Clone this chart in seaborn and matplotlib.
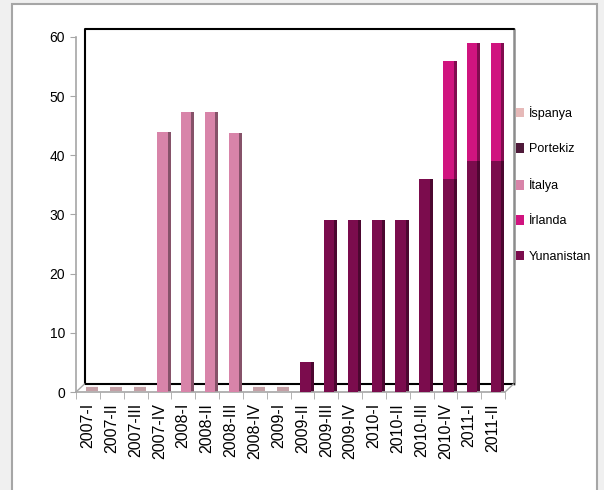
import numpy as np
import matplotlib
matplotlib.use('Agg')
import matplotlib.pyplot as plt
import matplotlib.transforms as mtransforms
from matplotlib.patches import Patch, Rectangle
from matplotlib.colors import to_rgb
import seaborn as sns

categories = ['2007-I', '2007-II', '2007-III', '2007-IV', '2008-I', '2008-II', '2008-III',
              '2008-IV', '2009-I', '2009-II', '2009-III', '2009-IV', '2010-I', '2010-II',
              '2010-III', '2010-IV', '2011-I', '2011-II']
yunanistan = [0, 0, 0, 0, 0, 0, 0, 0, 0, 5, 29, 29, 29, 29, 36, 36, 39, 39]
irlanda = [0, 0, 0, 0, 0, 0, 0, 0, 0, 0, 0, 0, 0, 0, 0, 20, 20, 20]
italya = [0, 0, 0, 44, 47.3, 47.3, 43.8, 0, 0, 0, 0, 0, 0, 0, 0, 0, 0, 0]
portekiz = [0] * 18
ispanya = [0] * 18

series = ['Yunanistan', 'İrlanda', 'İtalya', 'Portekiz', 'İspanya']
values = [yunanistan, irlanda, italya, portekiz, ispanya]
colors = ['#7b0c4d', '#d0147f', '#d884a9', '#4f1a3a', '#e6b9b8']

sns.set_style('white')
plt.rcParams['font.family'] = ['Liberation Sans', 'DejaVu Sans']
plt.rcParams['text.color'] = 'black'
plt.rcParams['xtick.labelcolor'] = 'black'
plt.rcParams['ytick.labelcolor'] = 'black'

fig = plt.figure(figsize=(6.04, 4.90), dpi=100)
fig.patch.set_facecolor('#f0f0f0')
fig.patches.append(Rectangle((12 / 604, -0.01), 585 / 604, 1.0059 - 2 / 490,
                             transform=fig.transFigure, facecolor='white',
                             edgecolor='#a6a6a6', lw=1.5, zorder=-5))

ax = fig.add_axes([76 / 604, 98 / 490, 429 / 604, 355 / 490])
ax.patch.set_alpha(0)

x = np.arange(len(categories))
w = 0.44
shift = 0.12
side = 0.13

# back wall / floor of the pseudo 3D chart
back = ax.transAxes + mtransforms.ScaledTranslation(0.085, 0.08, fig.dpi_scale_trans)
ax.plot([1, 1], [0, 1.0], transform=back, color='#8c8c8c', lw=1.8, clip_on=False, zorder=0)
ax.plot([0, 0, 1], [0, 1.0, 1.0], transform=back, color='black', lw=1.5, clip_on=False, zorder=0)
ax.plot([0, 1], [0, 0], transform=back, color='black', lw=1.5, clip_on=False, zorder=0)
ax.plot([0, 0.0198], [0, 0.0225], transform=ax.transAxes, color='#a6a6a6', lw=1, clip_on=False)
ax.plot([1, 1.0198], [0, 0.0225], transform=ax.transAxes, color='#a6a6a6', lw=1, clip_on=False)

bottom = np.zeros(len(categories))
for name, vals, col in zip(series, values, colors):
    vals = np.array(vals, dtype=float)
    dark = tuple(c * 0.62 for c in to_rgb(col))
    ax.bar(x + shift + w / 2 + side / 2, vals, width=side, bottom=bottom, color=dark,
           linewidth=0, zorder=2)
    if name == 'Yunanistan':
        sns.barplot(x=x + shift, y=vals, ax=ax, native_scale=True, color=col, width=w,
                    saturation=1, linewidth=0, zorder=3)
    else:
        ax.bar(x + shift, vals, width=w, bottom=bottom, color=col, linewidth=0, zorder=3)
    bottom += vals

# flat tops of the empty quarters
total = np.array(bottom)
empty = x[total == 0]
lift = ax.transData + mtransforms.ScaledTranslation(0.0, 0.035, fig.dpi_scale_trans)
ax.plot(empty + shift + 0.06, np.zeros(len(empty)), ls='none', marker='_', ms=9, mew=3,
        color='#c4a0a6', transform=lift, clip_on=False, zorder=4)

ax.set_xlim(-0.5, len(categories) - 0.5)
ax.set_ylim(0, 60)
ax.set_xlabel('')
ax.set_ylabel('')

for s in ['top', 'right']:
    ax.spines[s].set_visible(False)
for s in ['left', 'bottom']:
    ax.spines[s].set_color('#a6a6a6')
    ax.spines[s].set_linewidth(1.2)

ax.set_yticks(range(0, 61, 10))
ax.tick_params(axis='y', length=4, color='#a6a6a6', labelsize=10, pad=4, left=True)
ax.set_xticks(x)
ax.set_xticklabels(categories, rotation=90, fontsize=11.5)
ax.tick_params(axis='x', length=0, pad=8)
ax.set_xticks(np.arange(-0.5, len(categories)), minor=True)
ax.tick_params(axis='x', which='minor', length=5, color='#a6a6a6', bottom=True)

handles = [Patch(facecolor=c, edgecolor='none') for c in colors[::-1]]
fig.legend(handles, series[::-1], loc='upper left', bbox_to_anchor=(511 / 604, 1 - 101 / 490),
           frameon=False, fontsize=9, labelspacing=1.85, handlelength=0.6,
           handleheight=0.8, handletextpad=0.4, borderaxespad=0)

fig.savefig('out.png', dpi=100, facecolor=fig.get_facecolor())
